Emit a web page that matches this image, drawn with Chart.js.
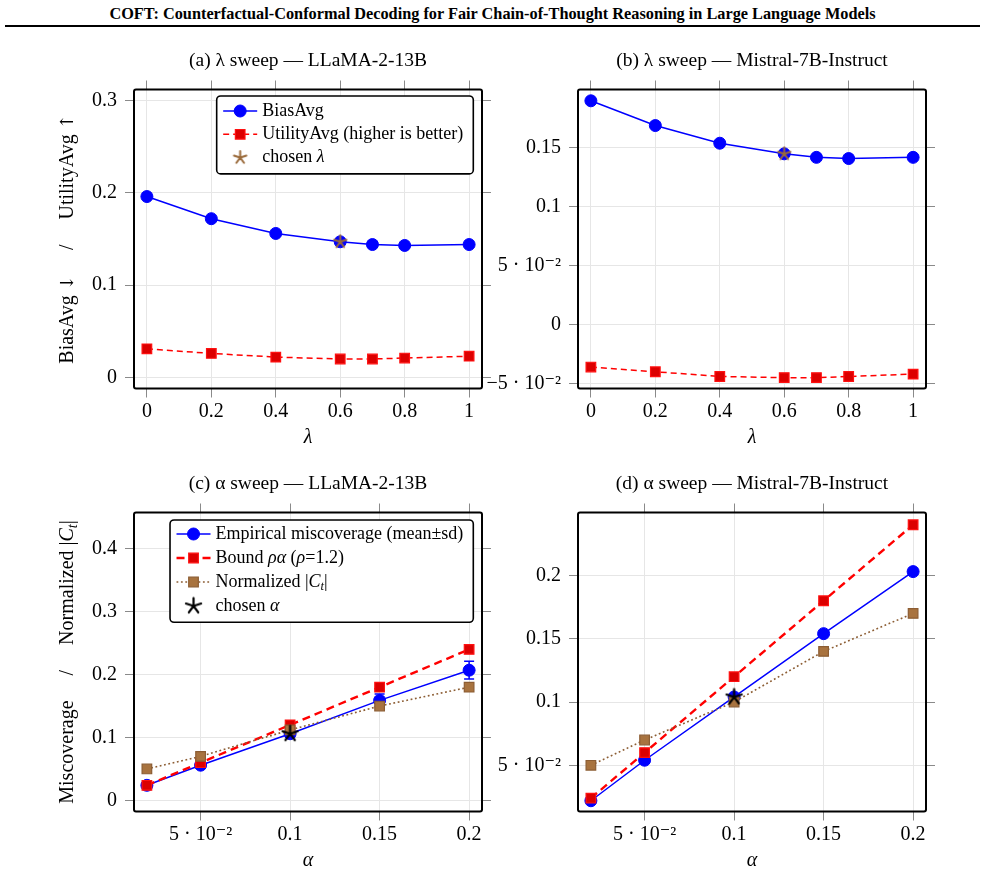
<!DOCTYPE html>
<html>
<head>
<meta charset="utf-8">
<script src="https://cdn.jsdelivr.net/npm/chart.js@4.4.1/dist/chart.umd.min.js"></script>
<style>
  body { margin: 0; background: #fff; }
  #page { position: relative; width: 985px; height: 874px; overflow: hidden; background: #fff; font-family: 'Liberation Serif', 'DejaVu Serif', serif; }
  #hdr { position: absolute; left: 0; top: 4px; width: 985px; text-align: center; font-weight: bold; font-size: 16.3px; line-height: 20px; }
  #rule { position: absolute; left: 5px; top: 25px; width: 975px; height: 2px; background: #000; }
  canvas { position: absolute; }
</style>
</head>
<body>
<div id="page">
  <div id="hdr">COFT: Counterfactual-Conformal Decoding for Fair Chain-of-Thought Reasoning in Large Language Models</div>
  <div id="rule"></div>
  <canvas id="pa" width="494" height="430" style="left:0;top:30px"></canvas>
  <canvas id="pb" width="507" height="430" style="left:478px;top:30px"></canvas>
  <canvas id="pc" width="494" height="414" style="left:0;top:460px"></canvas>
  <canvas id="pd" width="507" height="414" style="left:478px;top:460px"></canvas>
</div>
<script>
// ---- data: lambda sweep ----
const lambdas = [0, 0.2, 0.4, 0.6, 0.7, 0.8, 1]
const biasLlama = [0.196, 0.172, 0.156, 0.147, 0.144, 0.143, 0.144]
const utilLlama = [0.031, 0.026, 0.022, 0.020, 0.020, 0.021, 0.023]
const biasMistral = [0.190, 0.169, 0.154, 0.145, 0.142, 0.141, 0.142]
const utilMistral = [-0.036, -0.040, -0.044, -0.045, -0.045, -0.044, -0.042]
const chosenLambda = 0.6

// ---- data: alpha sweep ----
const alphas = [0.02, 0.05, 0.1, 0.15, 0.2]
const missLlama = [0.024, 0.056, 0.106, 0.159, 0.207]
const missLlamaSd = [0.003, 0.004, 0.006, 0.010, 0.014]
const boundLlama = [0.024, 0.06, 0.12, 0.18, 0.24]
const sizeLlama = [0.05, 0.07, 0.112, 0.15, 0.18]
const missMistral = [0.022, 0.054, 0.104, 0.154, 0.203]
const boundMistral = [0.024, 0.06, 0.12, 0.18, 0.24]
const sizeMistral = [0.05, 0.07, 0.10, 0.14, 0.17]
const chosenAlpha = 0.1

// ---- ticks ----
const lambdaTicks = [0, 0.2, 0.4, 0.6, 0.8, 1]
const lambdaTickLabels = ["0", "0.2", "0.4", "0.6", "0.8", "1"]
const alphaTicks = [0.05, 0.1, 0.15, 0.2]
const alphaTickLabels = ["5 · 10⁻²", "0.1", "0.15", "0.2"]
const yTicksA = [0, 0.1, 0.2, 0.3]
const yLabelsA = ["0", "0.1", "0.2", "0.3"]
const yTicksB = [-0.05, 0, 0.05, 0.1, 0.15]
const yLabelsB = ["−5 · 10⁻²", "0", "5 · 10⁻²", "0.1", "0.15"]
const yTicksC = [0, 0.1, 0.2, 0.3, 0.4]
const yLabelsC = ["0", "0.1", "0.2", "0.3", "0.4"]
const yTicksD = [0.05, 0.1, 0.15, 0.2]
const yLabelsD = ["5 · 10⁻²", "0.1", "0.15", "0.2"]

const FAM = "'Liberation Serif', 'DejaVu Serif', serif"
const TITLE_SIZE = 19.5
Chart.defaults.font.family = FAM
Chart.defaults.color = "#000"

const pts = (xs, ys) => xs.map((x, i) => ({ x: x, y: ys[i] }))

// five-ray star mark, like the pgfplots one
function makeStar(r, color, lw) {
    const c = document.createElement("canvas")
    const s = Math.ceil(2 * r + lw + 2)
    c.width = s
    c.height = s
    const g = c.getContext("2d")
    g.strokeStyle = color
    g.lineWidth = lw
    g.lineCap = "round"
    g.beginPath()
    for (let k = 0; k < 5; k++) {
        const a = -Math.PI / 2 + (k * 2 * Math.PI) / 5
        g.moveTo(s / 2, s / 2)
        g.lineTo(s / 2 + r * Math.cos(a), s / 2 + r * Math.sin(a))
    }
    g.stroke()
    return c
}
const starBrown = makeStar(6.5, "#9a6a3a", 2)
const starBlack = makeStar(8, "#000", 2.2)

// rich text: parts are [text, "n" | "i" | "sub" | "a"]
function fontStr(st, size) {
    if (st === "a") return size + "px 'DejaVu Serif', serif"
    return (st === "n" ? "" : "italic ") + size + "px " + FAM
}
function partSize(st, size) {
    if (st === "sub") return size * 0.7
    if (st === "a") return size * 0.9
    return size
}
function richWidth(ctx, parts, size) {
    let w = 0
    for (const [t, st] of parts) {
        ctx.font = fontStr(st, partSize(st, size))
        w += ctx.measureText(t).width
    }
    return w
}
function richDraw(ctx, parts, x, y, size) {
    ctx.textBaseline = "middle"
    ctx.textAlign = "left"
    for (const [t, st] of parts) {
        ctx.font = fontStr(st, partSize(st, size))
        ctx.fillText(t, x, st === "sub" ? y + size * 0.28 : y)
        x += ctx.measureText(t).width
    }
}

function markSample(ctx, ds, x, y) {
    const st = ds.pointStyle
    if (typeof st === "object") {
        ctx.drawImage(st, x - st.width / 2, y - st.height / 2)
        return
    }
    const r = ds.pointRadius
    ctx.setLineDash([])
    ctx.fillStyle = ds.pointBackgroundColor
    ctx.strokeStyle = ds.pointBorderColor
    ctx.lineWidth = ds.pointBorderWidth
    ctx.beginPath()
    if (st === "rect") {
        const s = r * Math.SQRT1_2
        ctx.rect(x - s, y - s, 2 * s, 2 * s)
    } else {
        ctx.arc(x, y, r, 0, 2 * Math.PI)
    }
    ctx.fill()
    if (ds.pointBorderWidth) ctx.stroke()
}

// ---- plugins ----
const framePlugin = {
    id: "frame",
    afterDatasetsDraw(chart) {
        const { ctx, chartArea: a } = chart
        ctx.save()
        ctx.strokeStyle = "#000"
        ctx.lineWidth = 2
        ctx.lineJoin = "round"
        ctx.beginPath()
        ctx.roundRect(a.left, a.top, a.right - a.left, a.bottom - a.top, 2)
        ctx.stroke()
        ctx.restore()
    },
}

const yTitlePlugin = (parts, size, dx) => ({
    id: "yTitleRich",
    afterDraw(chart) {
        const { ctx, chartArea: a } = chart
        ctx.save()
        ctx.fillStyle = "#000"
        const w = richWidth(ctx, parts, size)
        ctx.translate(a.left - dx, (a.top + a.bottom) / 2)
        ctx.rotate(-Math.PI / 2)
        richDraw(ctx, parts, -w / 2, 0, size)
        ctx.restore()
    },
})

const legendPlugin = (items, o) => ({
    id: "boxLegend",
    afterDraw(chart) {
        const { ctx, chartArea: a } = chart
        const size = o.size
        ctx.save()
        let tw = 0
        for (const it of items) tw = Math.max(tw, richWidth(ctx, it.parts, size))
        const sample = 34, padL = 6.5, gap = 5, padR = 10
        const w = padL + sample + gap + tw + padR
        const h = o.padT + o.rowH * (items.length - 1) + o.padB
        const x0 = a.right - o.right - w
        const y0 = a.top + o.top
        ctx.fillStyle = "#fff"
        ctx.strokeStyle = "#000"
        ctx.lineWidth = 1.6
        ctx.beginPath()
        ctx.roundRect(x0, y0, w, h, 4)
        ctx.fill()
        ctx.stroke()
        items.forEach((it, i) => {
            const ds = chart.data.datasets[it.ds]
            const cy = y0 + o.padT + i * o.rowH
            const sx = x0 + padL
            if (ds.showLine !== false) {
                ctx.strokeStyle = ds.borderColor
                ctx.lineWidth = ds.borderWidth
                ctx.setLineDash(ds.borderDash || [])
                ctx.beginPath()
                ctx.moveTo(sx, cy)
                ctx.lineTo(sx + sample, cy)
                ctx.stroke()
            }
            markSample(ctx, ds, sx + sample / 2, cy)
            ctx.fillStyle = "#000"
            richDraw(ctx, it.parts, sx + sample + gap, cy, size)
        })
        ctx.restore()
    },
})

const errorBarPlugin = (dsIndex, sd) => ({
    id: "errorBars",
    beforeDatasetsDraw(chart) {
        const { ctx } = chart
        const ys = chart.scales.y
        const vals = chart.data.datasets[dsIndex].data
        const meta = chart.getDatasetMeta(dsIndex)
        ctx.save()
        ctx.strokeStyle = "#0000ff"
        ctx.lineWidth = 1.5
        meta.data.forEach((pt, i) => {
            const hi = ys.getPixelForValue(vals[i].y + sd[i])
            const lo = ys.getPixelForValue(vals[i].y - sd[i])
            ctx.beginPath()
            ctx.moveTo(pt.x, hi)
            ctx.lineTo(pt.x, lo)
            ctx.moveTo(pt.x - 5, hi)
            ctx.lineTo(pt.x + 5, hi)
            ctx.moveTo(pt.x - 5, lo)
            ctx.lineTo(pt.x + 5, lo)
            ctx.stroke()
        })
        ctx.restore()
    },
})

// ---- dataset styles ----
const blueStyle = {
    borderColor: "#0000ff", borderWidth: 1.5, pointStyle: "circle", pointRadius: 6,
    pointBackgroundColor: "#0000ff", pointBorderColor: "#0000ff", pointBorderWidth: 1,
}
const redStyle = (lw, dash) => ({
    borderColor: "#ff0000", borderWidth: lw, borderDash: dash, pointStyle: "rect", pointRadius: 6.8,
    pointBackgroundColor: "#dc0000", pointBorderColor: "#ff1010", pointBorderWidth: 1.2,
})
const brownStyle = {
    borderColor: "#8c5d33", borderWidth: 1.6, borderDash: [1.8, 2.6], pointStyle: "rect", pointRadius: 6.8,
    pointBackgroundColor: "#a8733f", pointBorderColor: "#8c5d33", pointBorderWidth: 1.2,
}

// ---- chart builder ----
function makeChart(id, p, cfg, extraPlugins) {
    const L = p.L - p.left, R = p.left + p.w - p.R, T = p.T - p.top, B = p.top + p.h - p.B
    const tLH = TITLE_SIZE * 1.2, xLH = 20 * 1.2
    const tPad = p.titleY - p.top - tLH / 2
    const x2H = T - (tPad + tLH)
    const xPad = p.top + p.h - p.xTitleY - xLH / 2
    const grid = { color: "#e6e6e6", lineWidth: 1, tickLength: 9, tickColor: "#8a8a8a" }
    const setTicks = (vals) => (s) => { s.ticks = vals.map((v) => ({ value: v })) }
    return new Chart(document.getElementById(id), {
        type: "line",
        data: { datasets: cfg.datasets },
        options: {
            responsive: false,
            animation: false,
            events: [],
            layout: { padding: 0 },
            elements: { line: { tension: 0 } },
            scales: {
                x: {
                    type: "linear", position: "bottom", min: cfg.xMin, max: cfg.xMax,
                    afterBuildTicks: setTicks(cfg.xTicks), afterFit: (s) => { s.height = B },
                    grid: grid, border: { display: false },
                    ticks: { autoSkip: false, maxRotation: 0, padding: 2, font: { size: 20 }, callback: (v, i) => cfg.xLabels[i] },
                    title: { display: true, text: cfg.xTitle, font: { size: 20, style: "italic" }, padding: { top: 0, bottom: xPad } },
                },
                x2: {
                    type: "linear", position: "top", min: cfg.xMin, max: cfg.xMax,
                    afterBuildTicks: setTicks(cfg.xTicks), afterFit: (s) => { s.height = x2H },
                    grid: { ...grid, drawOnChartArea: false }, border: { display: false }, ticks: { display: false },
                },
                y: {
                    type: "linear", position: "left", min: cfg.yMin, max: cfg.yMax,
                    afterBuildTicks: setTicks(cfg.yTicks), afterFit: (s) => { s.width = L },
                    grid: grid, border: { display: false },
                    ticks: { autoSkip: false, padding: 8, font: { size: 20 }, callback: (v, i) => cfg.yLabels[i] },
                },
                y2: {
                    type: "linear", position: "right", min: cfg.yMin, max: cfg.yMax,
                    afterBuildTicks: setTicks(cfg.yTicks), afterFit: (s) => { s.width = R },
                    grid: { ...grid, drawOnChartArea: false }, border: { display: false }, ticks: { display: false },
                },
            },
            plugins: {
                legend: { display: false },
                tooltip: { enabled: false },
                title: {
                    display: true, text: cfg.title, fullSize: false,
                    font: { size: TITLE_SIZE, weight: "normal" }, padding: { top: tPad, bottom: 0 },
                },
            },
        },
        plugins: [framePlugin].concat(extraPlugins || []),
    })
}

// panel placement (page pixels)
const panelA = { left: 0, top: 30, w: 494, h: 430, L: 134, R: 482, T: 89.5, B: 388.5, titleY: 61, xTitleY: 438 }
const panelB = { left: 478, top: 30, w: 507, h: 430, L: 578, R: 926, T: 89.5, B: 388.5, titleY: 61, xTitleY: 438 }
const panelC = { left: 0, top: 460, w: 494, h: 414, L: 134, R: 482, T: 512.5, B: 811.5, titleY: 484, xTitleY: 861 }
const panelD = { left: 478, top: 460, w: 507, h: 414, L: 578, R: 926, T: 512.5, B: 811.5, titleY: 484, xTitleY: 861 }

// (a) lambda sweep, LLaMA
makeChart("pa", panelA, {
    title: "(a) λ sweep — LLaMA-2-13B", xTitle: "λ",
    xMin: -0.04, xMax: 1.04, xTicks: lambdaTicks, xLabels: lambdaTickLabels,
    yMin: -0.012, yMax: 0.312, yTicks: yTicksA, yLabels: yLabelsA,
    datasets: [
        { label: "BiasAvg", data: pts(lambdas, biasLlama), ...blueStyle, order: 3 },
        { label: "UtilityAvg (higher is better)", data: pts(lambdas, utilLlama), ...redStyle(1.5, [6, 4]), order: 2 },
        { label: "chosen λ", data: [{ x: chosenLambda, y: biasLlama[lambdas.indexOf(chosenLambda)] }], showLine: false, pointStyle: starBrown, pointRadius: 7, order: 1 },
    ],
}, [
    yTitlePlugin([["BiasAvg ", "n"], ["↓", "a"], ["\u2003 /\u2003 UtilityAvg ", "n"], ["↑", "a"]], 20, 66),
    legendPlugin([
        { ds: 0, parts: [["BiasAvg", "n"]] },
        { ds: 1, parts: [["UtilityAvg (higher is better)", "n"]] },
        { ds: 2, parts: [["chosen ", "n"], ["λ", "i"]] },
    ], { size: 18, rowH: 23.3, top: 6.5, right: 8.7, padT: 15, padB: 16.3 }),
])

// (b) lambda sweep, Mistral
makeChart("pb", panelB, {
    title: "(b) λ sweep — Mistral-7B-Instruct", xTitle: "λ",
    xMin: -0.04, xMax: 1.04, xTicks: lambdaTicks, xLabels: lambdaTickLabels,
    yMin: -0.0542, yMax: 0.1996, yTicks: yTicksB, yLabels: yLabelsB,
    datasets: [
        { label: "BiasAvg", data: pts(lambdas, biasMistral), ...blueStyle, order: 3 },
        { label: "UtilityAvg", data: pts(lambdas, utilMistral), ...redStyle(1.5, [6, 4]), order: 2 },
        { label: "chosen λ", data: [{ x: chosenLambda, y: biasMistral[lambdas.indexOf(chosenLambda)] }], showLine: false, pointStyle: starBrown, pointRadius: 7, order: 1 },
    ],
})

// (c) alpha sweep, LLaMA
makeChart("pc", panelC, {
    title: "(c) α sweep — LLaMA-2-13B", xTitle: "α",
    xMin: 0.0128, xMax: 0.2072, xTicks: alphaTicks, xLabels: alphaTickLabels,
    yMin: -0.0176, yMax: 0.4576, yTicks: yTicksC, yLabels: yLabelsC,
    datasets: [
        { label: "Empirical miscoverage", data: pts(alphas, missLlama), ...blueStyle, order: 4 },
        { label: "Bound", data: pts(alphas, boundLlama), ...redStyle(2.4, [8, 5]), order: 3 },
        { label: "Normalized |C_t|", data: pts(alphas, sizeLlama), ...brownStyle, order: 2 },
        { label: "chosen α", data: [{ x: chosenAlpha, y: missLlama[alphas.indexOf(chosenAlpha)] }], showLine: false, pointStyle: starBlack, pointRadius: 8, order: 1 },
    ],
}, [
    errorBarPlugin(0, missLlamaSd),
    yTitlePlugin([["Miscoverage\u2003 /\u2003 Normalized |", "n"], ["C", "i"], ["t", "sub"], ["|", "n"]], 20, 66),
    legendPlugin([
        { ds: 0, parts: [["Empirical miscoverage (mean±sd)", "n"]] },
        { ds: 1, parts: [["Bound ", "n"], ["ρα", "i"], [" (", "n"], ["ρ", "i"], ["=1.2)", "n"]] },
        { ds: 2, parts: [["Normalized |", "n"], ["C", "i"], ["t", "sub"], ["|", "n"]] },
        { ds: 3, parts: [["chosen ", "n"], ["α", "i"]] },
    ], { size: 18, rowH: 24, top: 7.5, right: 8.7, padT: 14, padB: 16.3 }),
])

// (d) alpha sweep, Mistral
makeChart("pd", panelD, {
    title: "(d) α sweep — Mistral-7B-Instruct", xTitle: "α",
    xMin: 0.0128, xMax: 0.2072, xTicks: alphaTicks, xLabels: alphaTickLabels,
    yMin: 0.0135, yMax: 0.2497, yTicks: yTicksD, yLabels: yLabelsD,
    datasets: [
        { label: "Empirical miscoverage", data: pts(alphas, missMistral), ...blueStyle, order: 4 },
        { label: "Bound", data: pts(alphas, boundMistral), ...redStyle(2.4, [8, 5]), order: 3 },
        { label: "Normalized |C_t|", data: pts(alphas, sizeMistral), ...brownStyle, order: 2 },
        { label: "chosen α", data: [{ x: chosenAlpha, y: missMistral[alphas.indexOf(chosenAlpha)] }], showLine: false, pointStyle: starBlack, pointRadius: 8, order: 1 },
    ],
})
</script>
</body>
</html>
